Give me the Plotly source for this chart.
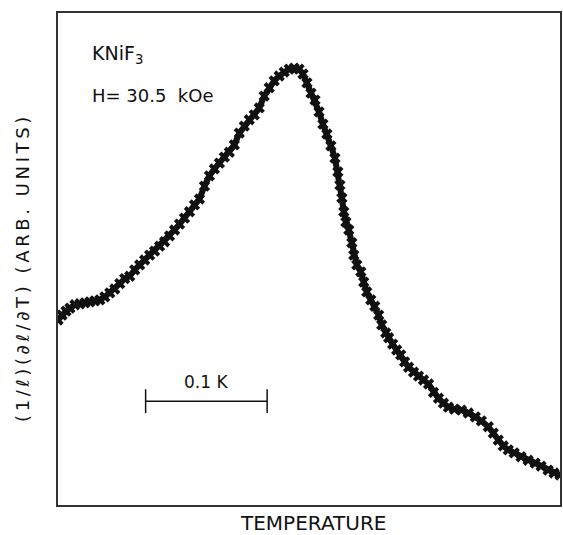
import plotly.graph_objects as go

# Temperature offset (mK, arbitrary origin) and (1/l)(dl/dT) in arbitrary units
temp_mK = [
    0.0, 3.3, 6.6, 9.8, 13.9, 18.0, 22.1, 26.2, 30.3, 34.4, 38.5, 42.6, 46.7, 50.8, 54.9,
    59.0, 63.1, 67.2, 71.3, 75.4, 79.5, 83.6, 87.7, 91.8, 95.9, 100.0, 104.1, 108.2, 112.3,
    116.4, 120.5, 124.6, 128.7, 132.8, 136.9, 141.0, 145.1, 149.2, 153.3, 157.4, 161.5,
    165.6, 169.7, 173.8, 177.9, 182.0, 186.1, 190.2, 194.3, 198.4, 201.6, 204.9, 208.2,
    211.5, 214.8, 218.0, 221.3, 224.6, 227.9, 230.3, 232.0, 233.6, 235.2, 236.9, 239.3,
    241.8, 243.4, 245.9, 249.2, 251.6, 254.1, 257.4, 260.7, 263.9, 266.4, 269.7, 272.1,
    275.4, 278.7, 282.0, 285.2, 288.5, 292.6, 296.7, 300.8, 304.9, 309.0, 313.1, 317.2,
    321.3, 326.2, 332.0, 337.7, 343.4, 348.4, 354.1, 358.2, 362.3, 366.4, 370.5, 375.4,
    381.1, 386.9, 392.6, 397.5, 403.3, 408.2, 413.1,
]
signal = [
    37.6, 38.6, 39.4, 40.0, 40.7, 40.9, 41.1, 41.3, 41.5, 41.7, 42.3, 43.1, 43.9, 45.0, 46.0,
    46.5, 47.8, 48.8, 49.8, 50.8, 51.6, 52.6, 53.5, 54.7, 55.9, 57.1, 58.3, 59.6, 61.0,
    62.2, 64.8, 66.9, 68.3, 69.5, 70.7, 71.7, 73.2, 75.6, 77.0, 78.3, 79.3,
    80.7, 83.1, 84.8, 86.2, 87.2, 88.0, 88.6, 88.8, 88.6, 87.6, 85.8, 83.7,
    82.3, 79.9, 77.4, 75.4, 73.0, 70.5, 67.7, 65.0, 62.4, 59.6, 57.5, 55.9,
    53.3, 50.8, 48.8, 47.4, 45.3, 43.3, 41.7, 40.4, 38.6, 36.6, 35.0, 34.0,
    32.7, 31.5, 30.5, 29.1, 28.0, 27.0, 26.2, 25.4, 24.6, 22.9, 21.7, 20.7,
    19.9, 19.5, 19.3, 18.7, 17.9, 17.1, 15.9, 14.6, 13.2, 12.0, 11.2, 10.6,
    9.8, 9.1, 8.5, 7.9, 7.1, 6.5, 6.1,
]

# 0.1 K scale bar (mK)
scale_bar_x = [72.1, 172.1]
scale_bar_y = [21.1, 21.1]
scale_label = "0.1 K"

x_range = [0, 413.1]
y_range = [0, 100]

sample_label = "KNiF<sub>3</sub>"
field_label = "H= 30.5  kOe"
x_title = "TEMPERATURE"
y_title = "(1/ℓ)(∂ℓ/∂T) (ARB. UNITS)"

FONT = "DejaVu Sans"
INK = "#111111"

fig = go.Figure()
fig.add_trace(go.Scatter(
    x=temp_mK, y=signal, mode="lines+markers",
    line=dict(color=INK, width=6),
    marker=dict(symbol="x", size=10, color=INK, line=dict(color=INK, width=0)),
    showlegend=False, hoverinfo="skip",
))
fig.add_trace(go.Scatter(
    x=scale_bar_x, y=scale_bar_y, mode="lines+markers",
    line=dict(color=INK, width=1.5),
    marker=dict(symbol="line-ns", size=17, line=dict(color=INK, width=1.5)),
    showlegend=False, hoverinfo="skip",
))

spaced = "\u2009".join(list(y_title))

annotations = [
    dict(text=sample_label, x=0.0635, y=0.915, xref="paper", yref="paper",
         xanchor="left", yanchor="middle", showarrow=False,
         font=dict(family=FONT, size=19, color=INK)),
    dict(text=field_label, x=0.0635, y=0.833, xref="paper", yref="paper",
         xanchor="left", yanchor="middle", showarrow=False,
         font=dict(family=FONT, size=18, color=INK)),
    dict(text=scale_label, x=sum(scale_bar_x) / 2, y=scale_bar_y[0], xref="x", yref="y",
         xanchor="center", yanchor="bottom", yshift=7, showarrow=False,
         font=dict(family=FONT, size=17, color=INK)),
    dict(text=x_title, x=0.508, y=-0.037, xref="paper", yref="paper",
         xanchor="center", yanchor="middle", showarrow=False,
         font=dict(family=FONT, size=20, color=INK)),
    dict(text=spaced, x=-0.0694, y=0.478, xref="paper", yref="paper",
         xanchor="center", yanchor="middle", textangle=-90, showarrow=False,
         font=dict(family=FONT, size=18, color=INK)),
]

axis_common = dict(showgrid=False, zeroline=False, showticklabels=False, ticks="",
                   showline=True, mirror=True, linecolor="#333333", linewidth=1.5)

fig.update_layout(
    width=563, height=535,
    margin=dict(l=58, r=1, t=13, b=30),
    paper_bgcolor="white", plot_bgcolor="white",
    xaxis=dict(range=x_range, **axis_common),
    yaxis=dict(range=y_range, **axis_common),
    annotations=annotations,
)

fig.write_html("out.html", config={"displayModeBar": False},
               post_script="document.body.style.margin='0';")
